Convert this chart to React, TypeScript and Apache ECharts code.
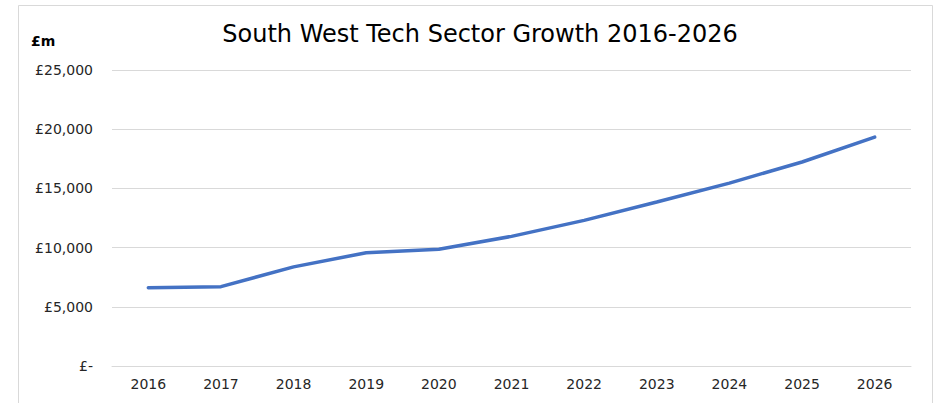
import React, { useEffect, useRef } from "react";
import * as echarts from "echarts";

const years = ["2016", "2017", "2018", "2019", "2020", "2021", "2022", "2023", "2024", "2025", "2026"];
const values = [6610, 6700, 8370, 9570, 9860, 10950, 12300, 13850, 15450, 17230, 19330];
const titleText = "South West Tech Sector Growth 2016-2026";
const unitText = "£m";

const FONT = "'DejaVu Sans', 'Liberation Sans', sans-serif";

export default function App() {
  const ref = useRef<HTMLDivElement>(null);
  useEffect(() => {
    if (!ref.current) return;
    const chart = echarts.init(ref.current, undefined, { renderer: "svg" });
    chart.setOption({
      animation: false,
      backgroundColor: "#ffffff",
      title: {
        text: titleText,
        left: 475,
        textAlign: "center",
        top: 17,
        textStyle: { fontFamily: FONT, fontSize: 24, fontWeight: "normal", color: "#000000" },
      },
      graphic: [
        {
          type: "rect",
          shape: { x: 18.5, y: 5.5, width: 914, height: 410 },
          style: { fill: "none", stroke: "#d9d9d9", lineWidth: 1 },
          silent: true,
        },
        {
          type: "text",
          left: 31,
          top: 34,
          style: { text: unitText, font: `bold 14px ${FONT}`, fill: "#000000" },
        },
      ],
      grid: { left: 112, right: 26, top: 70, bottom: 37, containLabel: false },
      xAxis: {
        type: "category",
        data: years,
        boundaryGap: true,
        axisLine: { show: true, lineStyle: { color: "#d9d9d9", width: 1 } },
        axisTick: { show: false },
        axisLabel: { color: "#262626", fontFamily: FONT, fontSize: 14, margin: 11 },
      },
      yAxis: {
        type: "value",
        min: 0,
        max: 25000,
        interval: 5000,
        axisLine: { show: false },
        axisTick: { show: false },
        splitLine: { lineStyle: { color: "#d9d9d9", width: 1 } },
        axisLabel: {
          color: "#262626",
          fontFamily: FONT,
          fontSize: 14,
          margin: 19,
          formatter: (v: number) => (v === 0 ? "£-" : "£" + v.toLocaleString("en-GB")),
        },
      },
      series: [
        {
          type: "line",
          data: values,
          symbol: "none",
          lineStyle: { color: "#4472c4", width: 3.5, cap: "round" },
          itemStyle: { color: "#4472c4" },
        },
      ],
    });
    return () => chart.dispose();
  }, []);
  return (
    <div
      ref={ref}
      style={{ position: "absolute", left: 0, top: 0, width: 937, height: 403 }}
    />
  );
}
